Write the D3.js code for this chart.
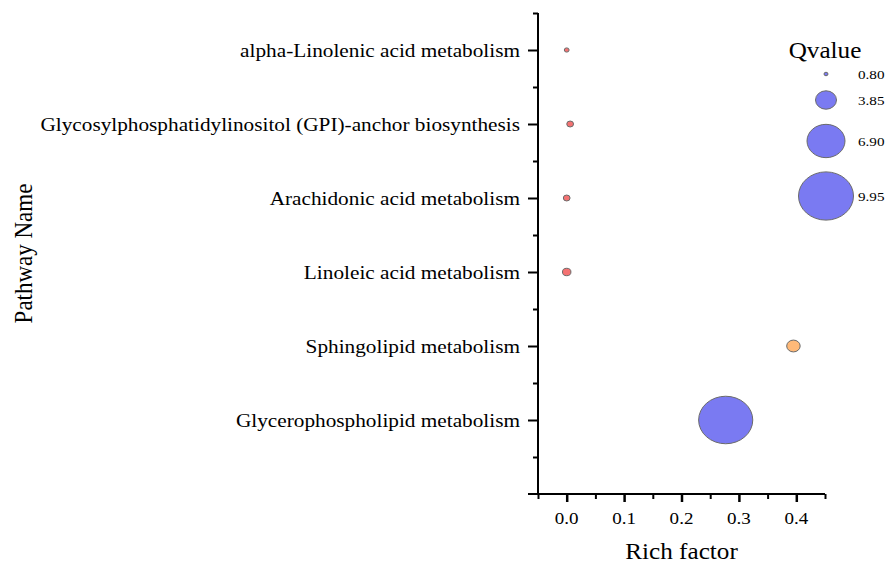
<!DOCTYPE html>
<html>
<head>
<meta charset="utf-8">
<script src="https://cdn.jsdelivr.net/npm/d3@7"></script>
<style>
  body { margin: 0; background: #fff; }
  svg { display: block; font-family: "Liberation Serif", "Times New Roman", serif; }
</style>
</head>
<body>
<div id="chart"></div>
<script>
// pathways from top to bottom
const pathways = [
  'alpha-Linolenic acid metabolism',
  'Glycosylphosphatidylinositol (GPI)-anchor biosynthesis',
  'Arachidonic acid metabolism',
  'Linoleic acid metabolism',
  'Sphingolipid metabolism',
  'Glycerophospholipid metabolism'
];
const richFactor = [0.0, 0.006, 0.0, 0.0, 0.395, 0.277];
const qValue = [0.95, 1.3, 1.3, 1.6, 2.5, 9.8];

const xTicks = [0.0, 0.1, 0.2, 0.3, 0.4];
const legendValues = [0.80, 3.85, 6.90, 9.95];

const width = 886, height = 563;
const margin = { top: 13, right: 61, bottom: 69, left: 538 };
const stretch = 1.12; // the original picture is a bit wider than tall

const svg = d3.select('#chart').append('svg')
  .attr('width', width)
  .attr('height', height);

// text helper, stretched horizontally like the original
function label(g, tx, ty, txt, size, anchor, rot) {
  return g.append('text')
    .attr('transform', `translate(${tx},${ty}) scale(${stretch},1)` + (rot ? ` rotate(${rot})` : ''))
    .attr('text-anchor', anchor)
    .style('font-size', size + 'px')
    .style('fill', '#000')
    .text(txt);
}

const x = d3.scaleLinear()
  .domain([-0.05, 0.45])
  .range([margin.left, width - margin.right]);

// y is a linear position: bottom pathway sits at 1, top at 6, axis runs 0..6.5
const y = d3.scaleLinear()
  .domain([0, pathways.length + 0.5])
  .range([height - margin.bottom, margin.top]);
const yPos = i => y(pathways.length - i);

// bubble width from Qvalue; the original is drawn slightly squashed
const size = d3.scaleLinear().domain([0.8, 9.95]).range([4, 55]);
const squash = 1 / 1.14;

const color = d3.scaleThreshold()
  .domain([2, 5])
  .range(['#f47272', '#ffb978', '#7a7af2']);

// x axis
const xAxis = svg.append('g')
  .attr('transform', `translate(0,${y(0)})`)
  .call(d3.axisBottom(x).tickValues(xTicks).tickFormat('').tickSize(8).tickSizeOuter(0));
xAxis.select('.domain').remove();
xAxis.append('line')
  .attr('x1', margin.left - 10).attr('x2', x(0.45))
  .attr('stroke', '#000').attr('stroke-width', 2);
xAxis.selectAll('.tick line').attr('stroke-width', 2.5);

const xLabels = svg.append('g');
xTicks.forEach(t => label(xLabels, x(t), 523.5, d3.format('.1f')(t), 17, 'middle'));

const xMinor = svg.append('g')
  .attr('transform', `translate(0,${y(0)})`)
  .call(d3.axisBottom(x).tickValues(d3.range(-0.05, 0.46, 0.1)).tickSize(5).tickFormat(''));
xMinor.select('.domain').remove();
xMinor.selectAll('.tick line').attr('stroke-width', 2);

// y axis
const yAxis = svg.append('g')
  .attr('transform', `translate(${margin.left},0)`)
  .call(d3.axisLeft(y).tickValues(d3.range(1, pathways.length + 1)).tickSize(10).tickFormat(''));
yAxis.select('.domain').remove();
yAxis.selectAll('.tick line').attr('stroke-width', 2);
yAxis.append('line')
  .attr('y1', y(0) + 1).attr('y2', y(pathways.length + 0.5))
  .attr('stroke', '#000').attr('stroke-width', 2);

const yMinor = svg.append('g')
  .attr('transform', `translate(${margin.left},0)`)
  .call(d3.axisLeft(y).tickValues(d3.range(0.5, pathways.length + 0.6, 1)).tickSize(5).tickFormat(''));
yMinor.select('.domain').remove();
yMinor.selectAll('.tick line').attr('stroke-width', 2);

// pathway labels
const yLabels = svg.append('g');
pathways.forEach((p, i) => {
  label(yLabels, margin.left - 18, yPos(i), p, 19, 'end').attr('dy', '0.35em');
});

// bubbles
const points = pathways.map((p, i) => ({ p, i, r: richFactor[i], q: qValue[i] }));
svg.append('g').selectAll('ellipse')
  .data(points)
  .join('ellipse')
  .attr('cx', d => x(d.r))
  .attr('cy', d => yPos(d.i))
  .attr('rx', d => size(d.q) / 2)
  .attr('ry', d => size(d.q) / 2 * squash)
  .attr('fill', d => color(d.q))
  .attr('stroke', '#6b6b6b')
  .attr('stroke-width', 1);

// axis titles
label(svg, x(0.2), 558.5, 'Rich factor', 22.5, 'middle');
label(svg, 32, (y(0) + margin.top) / 2, 'Pathway Name', 23, 'middle', -90);

// legend
const legend = svg.append('g');
label(legend, 825, 58, 'Qvalue', 22.5, 'middle');

const legendY = [74, 100, 141, 196];
legendValues.forEach((v, i) => {
  legend.append('ellipse')
    .attr('cx', 826)
    .attr('cy', legendY[i])
    .attr('rx', size(v) / 2)
    .attr('ry', size(v) / 2 * squash)
    .attr('fill', '#7a7af2')
    .attr('stroke', '#6b6b6b')
    .attr('stroke-width', 1);
  label(legend, 858, legendY[i], v.toFixed(2), 13.5, 'start').attr('dy', '0.35em');
});
</script>
</body>
</html>
